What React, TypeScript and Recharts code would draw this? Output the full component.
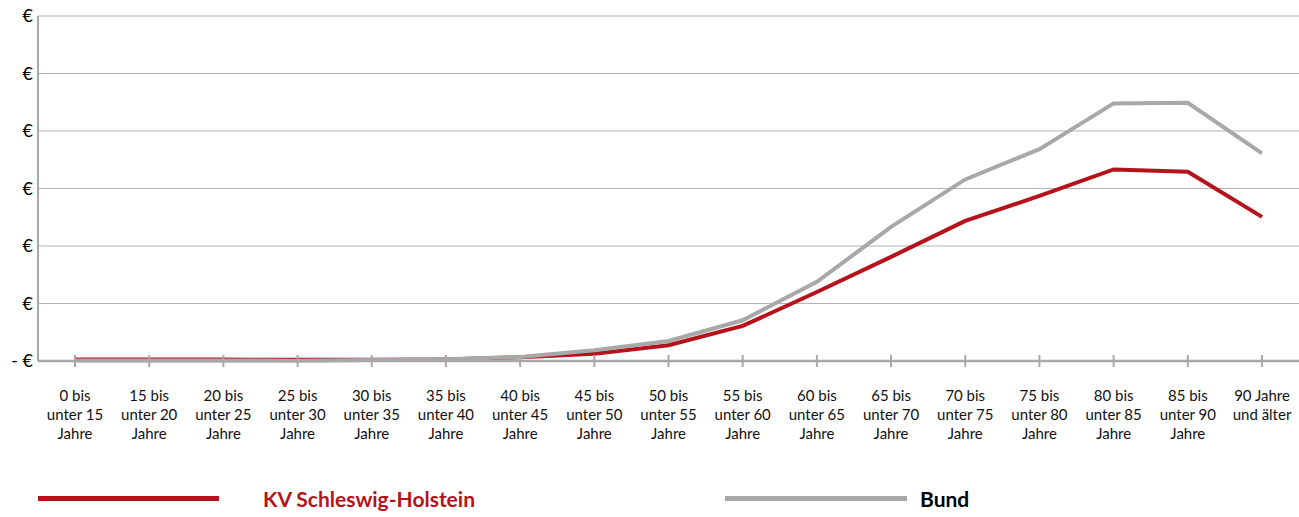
import React from "react";
import { LineChart, Line, XAxis, YAxis, CartesianGrid } from "recharts";

const ageGroups = [
  "0 bis\nunter 15\nJahre",
  "15 bis\nunter 20\nJahre",
  "20 bis\nunter 25\nJahre",
  "25 bis\nunter 30\nJahre",
  "30 bis\nunter 35\nJahre",
  "35 bis\nunter 40\nJahre",
  "40 bis\nunter 45\nJahre",
  "45 bis\nunter 50\nJahre",
  "50 bis\nunter 55\nJahre",
  "55 bis\nunter 60\nJahre",
  "60 bis\nunter 65\nJahre",
  "65 bis\nunter 70\nJahre",
  "70 bis\nunter 75\nJahre",
  "75 bis\nunter 80\nJahre",
  "80 bis\nunter 85\nJahre",
  "85 bis\nunter 90\nJahre",
  "90 Jahre\nund älter",
];

const kvSH = [14, 12, 12, 10, 10, 14, 32, 64, 137, 305, 600, 905, 1218, 1436, 1666, 1645, 1253];
const bund = [5, 5, 5, 3, 8, 15, 35, 93, 174, 354, 688, 1166, 1579, 1842, 2240, 2245, 1805];

const yTicks = [0, 500, 1000, 1500, 2000, 2500, 3000];

const RED = "#b5121b";
const GREY = "#a8a8a8";
const FONT = "Lato, 'Noto Sans', sans-serif";

const data = ageGroups.map((group, i) => ({
  group,
  kv: kvSH[i],
  bund: bund[i],
}));

const AgeTick = (props: any) => {
  const { x, y, payload } = props;
  const lines = String(payload.value).split("\n");
  return (
    <g>
      <line x1={x} x2={x} y1={y - 6} y2={y + 6} stroke={GREY} strokeWidth={2} />
      {lines.map((t, i) => (
        <text
          key={i}
          x={x}
          y={y + 40 + i * 19}
          textAnchor="middle"
          fontSize={15}
          fontFamily={FONT}
          fill="#111"
        >
          {t}
        </text>
      ))}
    </g>
  );
};

export default function App() {
  return (
    <div style={{ position: "absolute", left: 0, top: 0, width: 1299, height: 517, background: "#fff" }}>
      <LineChart
        width={1299}
        height={517}
        data={data}
        margin={{ top: 16, right: 0, left: 0, bottom: 56 }}
      >
        <CartesianGrid vertical={false} stroke="#b3b3b3" strokeWidth={1} />
        <XAxis
          dataKey="group"
          interval={0}
          height={100}
          padding={{ left: 37, right: 37 }}
          tickLine={false}
          tickSize={0}
          tickMargin={0}
          axisLine={{ stroke: GREY, strokeWidth: 2.5 }}
          tick={<AgeTick />}
        />
        <YAxis
          width={38}
          domain={[0, 3000]}
          ticks={yTicks}
          tickLine={false}
          tickSize={0}
          tickMargin={5}
          axisLine={{ stroke: GREY, strokeWidth: 2 }}
          tickFormatter={(v: number) => (v === 0 ? "- €" : "€")}
          tick={{ fontSize: 18, fill: "#000", fontFamily: FONT }}
        />
        <Line
          type="linear"
          dataKey="kv"
          stroke={RED}
          strokeWidth={4}
          dot={false}
          isAnimationActive={false}
        />
        <Line
          type="linear"
          dataKey="bund"
          stroke={GREY}
          strokeWidth={4}
          dot={false}
          isAnimationActive={false}
        />
      </LineChart>
      <div style={{ position: "absolute", left: 38, top: 496, width: 181, height: 5, background: RED }} />
      <div
        style={{
          position: "absolute",
          left: 263,
          top: 487,
          fontFamily: FONT,
          fontWeight: 700,
          fontSize: 21,
          lineHeight: "24px",
          color: RED,
        }}
      >
        KV Schleswig-Holstein
      </div>
      <div style={{ position: "absolute", left: 725, top: 496, width: 182, height: 5, background: GREY }} />
      <div
        style={{
          position: "absolute",
          left: 920,
          top: 487,
          fontFamily: FONT,
          fontWeight: 700,
          fontSize: 21,
          lineHeight: "24px",
          color: "#000",
        }}
      >
        Bund
      </div>
    </div>
  );
}
